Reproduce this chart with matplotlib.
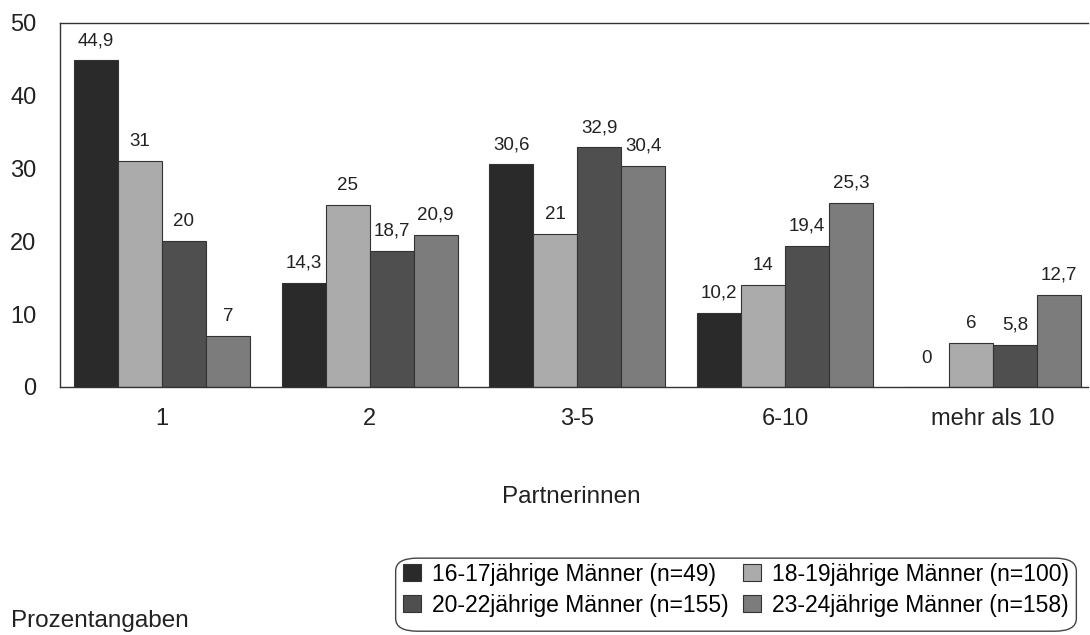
import numpy as np
import matplotlib
matplotlib.use("Agg")
import matplotlib.pyplot as plt
from matplotlib.patches import FancyBboxPatch

plt.rcParams["font.family"] = ["Liberation Sans", "DejaVu Sans"]

categories = ["1", "2", "3-5", "6-10", "mehr als 10"]
groups = [
    "16-17jährige Männer (n=49)",
    "18-19jährige Männer (n=100)",
    "20-22jährige Männer (n=155)",
    "23-24jährige Männer (n=158)",
]
m16_17 = [44.9, 14.3, 30.6, 10.2, 0]
m18_19 = [31, 25, 21, 14, 6]
m20_22 = [20, 18.7, 32.9, 19.4, 5.8]
m23_24 = [7, 20.9, 30.4, 25.3, 12.7]
colors = ["#2a2a2a", "#ababab", "#4f4f4f", "#7c7c7c"]

series = [m16_17, m18_19, m20_22, m23_24]

fig = plt.figure(figsize=(10.9, 6.35), dpi=100)
ax = fig.add_axes([0.055, 0.3906, 0.943, 0.5732])

x = np.arange(len(categories))
width = 0.212
handles = []
for i, (vals, col) in enumerate(zip(series, colors)):
    pos = x + (i - 1.5) * width
    bars = ax.bar(pos, vals, width, color=col, edgecolor="#333333", linewidth=0.8, label=groups[i])
    handles.append(bars)
    for b, v in zip(bars, vals):
        txt = f"{v:g}".replace(".", ",")
        ax.annotate(txt, (b.get_x() + b.get_width() / 2, max(v, 1.2)),
                    xytext=(0, 8), textcoords="offset points",
                    ha="center", va="bottom", fontsize=13.5, color="#222222")

ax.set_ylim(0, 50)
ax.set_xlim(-0.491, 4.457)
ax.set_yticks([0, 10, 20, 30, 40, 50])
ax.set_xticks(x)
ax.set_xticklabels(categories)
ax.tick_params(axis="both", length=0, labelsize=17, colors="#222222")
ax.tick_params(axis="y", pad=17)
ax.tick_params(axis="x", pad=15)
for s in ["left", "bottom", "top"]:
    ax.spines[s].set_color("#333333")
    ax.spines[s].set_linewidth(1.0)
ax.spines["right"].set_visible(False)

fig.text(0.524, 0.217, "Partnerinnen", ha="center", va="center", fontsize=17.5, color="#222222")
fig.text(0.010, 0.022, "Prozentangaben", ha="left", va="center", fontsize=17.5, color="#222222")

# row-wise order: 16-17 | 18-19 on top, 20-22 | 23-24 below
order = [0, 2, 1, 3]
leg = fig.legend([handles[k] for k in order], [groups[k] for k in order],
                 loc="lower right", bbox_to_anchor=(0.998, 0.0), ncol=2,
                 fontsize=16.5, frameon=False, handlelength=0.8, handleheight=0.8,
                 columnspacing=0.6, handletextpad=0.5, labelspacing=0.35,
                 borderpad=0.3)
for h in leg.legend_handles:
    h.set_edgecolor("#333333")

fig.canvas.draw()
bb = leg.get_window_extent().transformed(fig.transFigure.inverted())

# rounded frame around the legend
box = FancyBboxPatch((bb.x0, 0.006), bb.x1 - bb.x0, 0.115,
                     boxstyle="round,pad=0,rounding_size=0.02",
                     transform=fig.transFigure, facecolor="none", edgecolor="#444444", linewidth=1.0)
fig.add_artist(box)

fig.savefig("out.png", dpi=100, facecolor="white")
